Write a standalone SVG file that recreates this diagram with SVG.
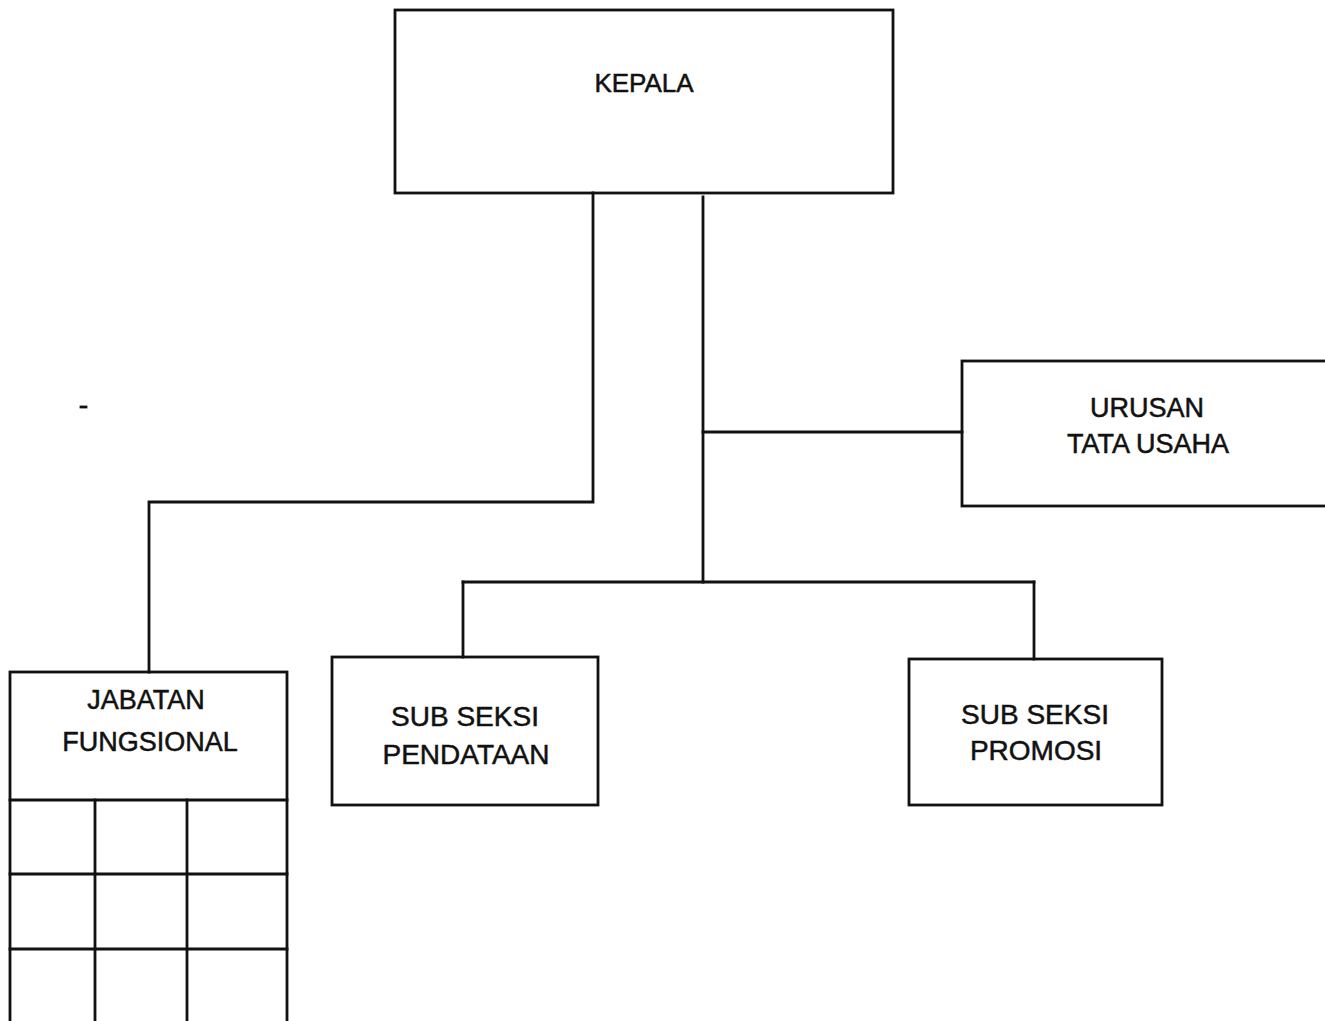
<svg xmlns="http://www.w3.org/2000/svg" width="1325" height="1021" viewBox="0 0 1325 1021">
<style>
.box{fill:none;stroke:#111;stroke-width:2.8}
.ln{fill:none;stroke:#111;stroke-width:2.8;stroke-linecap:square}
.t{font-family:"Liberation Sans",Arial,sans-serif;fill:#111;stroke:#111;stroke-width:0.5;text-anchor:middle}
</style>
<rect width="1325" height="1021" fill="#fff"/>
<g id="connectors">
<polyline class="ln" points="593,193 593,502 149,502 149,672"/>
<line class="ln" x1="703" y1="197" x2="703" y2="582"/>
<line class="ln" x1="703" y1="432" x2="962" y2="432"/>
<line class="ln" x1="463" y1="582" x2="1034" y2="582"/>
<line class="ln" x1="463" y1="582" x2="463" y2="657"/>
<line class="ln" x1="1034" y1="582" x2="1034" y2="659"/>
</g>
<g id="kepala">
<rect class="box" x="395" y="10" width="498" height="183"/>
<text class="t" x="644" y="92" font-size="26">KEPALA</text>
</g>
<g id="urusan-tata-usaha">
<rect class="box" x="962" y="361" width="370" height="145"/>
<text class="t" x="1147" y="417" font-size="27">URUSAN</text>
<text class="t" x="1148" y="453" font-size="27">TATA USAHA</text>
</g>
<g id="sub-seksi-pendataan">
<rect class="box" x="332" y="657" width="266" height="148"/>
<text class="t" x="465" y="726" font-size="28">SUB SEKSI</text>
<text class="t" x="466" y="764" font-size="28">PENDATAAN</text>
</g>
<g id="sub-seksi-promosi">
<rect class="box" x="909" y="659" width="253" height="146"/>
<text class="t" x="1035" y="724" font-size="28">SUB SEKSI</text>
<text class="t" x="1036" y="760" font-size="28">PROMOSI</text>
</g>
<g id="jabatan-fungsional">
<rect class="box" x="10" y="672" width="277" height="360"/>
<text class="t" x="146" y="709" font-size="27">JABATAN</text>
<text class="t" x="150" y="751" font-size="27">FUNGSIONAL</text>
<line class="ln" x1="10" y1="800" x2="287" y2="800"/>
<line class="ln" x1="10" y1="874" x2="287" y2="874"/>
<line class="ln" x1="10" y1="949" x2="287" y2="949"/>
<line class="ln" x1="95" y1="800" x2="95" y2="1030"/>
<line class="ln" x1="187" y1="800" x2="187" y2="1030"/>
</g>
<line class="ln" x1="81" y1="407" x2="86" y2="407"/>
</svg>
